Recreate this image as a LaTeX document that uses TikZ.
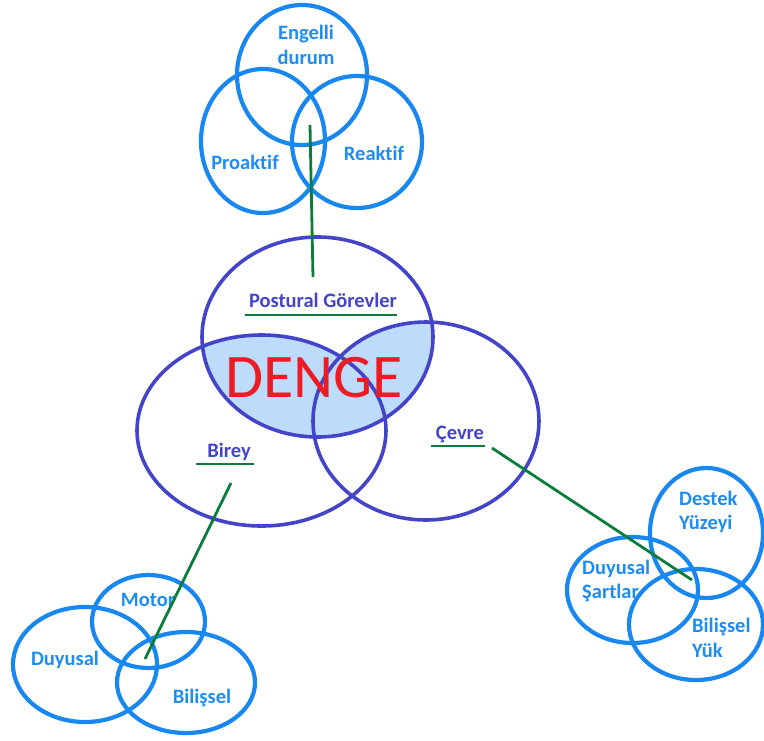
\documentclass[tikz,border=0pt]{standalone}
\usepackage{fontspec}
\setmainfont{Carlito}[Ligatures=NoCommon]
\usetikzlibrary{shapes.geometric}
\definecolor{lblue}{RGB}{24,136,240}
\definecolor{tblue}{RGB}{30,140,240}
\definecolor{dblue}{RGB}{68,68,200}
\definecolor{gline}{RGB}{10,125,60}
\definecolor{dred}{RGB}{237,28,36}
\definecolor{dfill}{RGB}{189,219,250}
\tikzset{
  lell/.style={ellipse, draw=lblue, line width=4.2pt, inner sep=0pt},
  dell/.style={ellipse, draw=dblue, line width=3.6pt, inner sep=0pt},
  ltxt/.style={text=tblue, font=\fontsize{20.5}{24.5}\selectfont\bfseries, align=center, inner sep=0pt},
  lltxt/.style={ltxt, align=left, anchor=west},
  dtxt/.style={text=dblue, font=\fontsize{20.5}{24}\selectfont\bfseries, inner sep=0pt},
  gl/.style={draw=gline, line width=2.8pt},
}
\begin{document}
\begin{tikzpicture}[x=1pt,y=-1pt]
\useasboundingbox (0,0) rectangle (764,740);
% fill of DENGE region
\begin{scope}
  \clip (317.5,337) ellipse [x radius=115.5, y radius=100];
  \fill[dfill] (261.5,430.5) ellipse [x radius=124.5, y radius=95.5];
  \fill[dfill] (426,421) ellipse [x radius=113, y radius=99];
\end{scope}
% main ellipses
\node[dell, minimum width=231pt, minimum height=200pt] (post) at (317.5,337) {};
\node[dell, minimum width=249pt, minimum height=191pt] (birey) at (261.5,430.5) {};
\node[dell, minimum width=226pt, minimum height=198pt] (cevre) at (426,421) {};
\node[text=dred, font=\fontsize{62}{62}\selectfont, inner sep=0pt] (denge) at (314,378) {DENGE};
\node[dtxt] (tpost) at (323,300) {Postural Görevler};
\node[dtxt] (tbirey) at (229,452) {Birey};
\node[dtxt] (tcevre) at (460,434) {Çevre};
\coordinate (up1) at (245,315); \coordinate (up2) at (397,315);
\coordinate (ub1) at (196,464); \coordinate (ub2) at (254,464);
\coordinate (uc1) at (431,446); \coordinate (uc2) at (485,446);
\draw[gl] (up1) -- (up2);
\draw[gl] (ub1) -- (ub2);
\draw[gl] (uc1) -- (uc2);
% top cluster
\node[lell, minimum width=130pt, minimum height=140pt] (eng) at (302,75) {};
\node[lell, minimum width=124pt, minimum height=144pt] (pro) at (263,141) {};
\node[lell, minimum width=130pt, minimum height=132pt] (rea) at (357,142) {};
\node[ltxt] (teng) at (306,45) {Engelli\\durum};
\node[ltxt] (tpro) at (245,162) {Proaktif};
\node[ltxt] (trea) at (374,153) {Reaktif};
% bottom-left cluster
\node[lell, minimum width=113pt, minimum height=93pt] (mot) at (148.5,621.5) {};
\node[lell, minimum width=144pt, minimum height=115pt] (duy) at (85,664.5) {};
\node[lell, minimum width=138pt, minimum height=101pt] (bil) at (186,682.5) {};
\node[ltxt] (tmot) at (148,600) {Motor};
\node[ltxt] (tduy) at (65,660) {Duyusal};
\node[ltxt] (tbil) at (202,698) {Bilişsel};
% bottom-right cluster
\node[lell, minimum width=113pt, minimum height=130pt] (des) at (706.5,533) {};
\node[lell, minimum width=131pt, minimum height=106pt] (sar) at (632.5,590) {};
\node[lell, minimum width=134pt, minimum height=111pt] (yuk) at (696,624.5) {};
\node[lltxt] (tdes) at (679,512) {Destek\\Yüzeyi};
\node[lltxt] (tsar) at (582,581) {Duyusal\\Şartlar};
\node[lltxt] (tyuk) at (692,638) {Bilişsel\\Yük};
% connectors
\coordinate (ct) at (310,125); \coordinate (cp) at (313,277);
\coordinate (cb) at (231,483); \coordinate (cm) at (145,659);
\coordinate (cc) at (492,448); \coordinate (cd) at (692,580);
\draw[gl] (ct) -- (cp);
\draw[gl] (cb) -- (cm);
\draw[gl] (cc) -- (cd);
\end{tikzpicture}
\end{document}
